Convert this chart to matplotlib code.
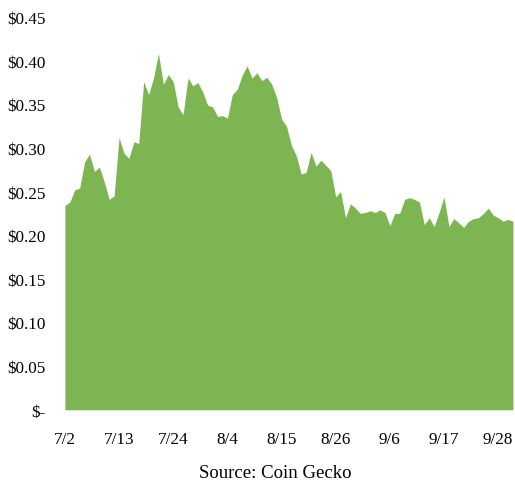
#imports
import pandas as pd
import matplotlib.pyplot as plt
import matplotlib.ticker as mticker

plt.rcParams['font.family'] = ['Liberation Serif', 'DejaVu Serif']

#daily token price in USD, 7/2 through 10/1
prices = [0.234, 0.238, 0.252, 0.254, 0.284, 0.293, 0.273, 0.278, 0.261, 0.241,
          0.245, 0.312, 0.294, 0.288, 0.307, 0.305, 0.376, 0.361, 0.380, 0.408,
          0.373, 0.384, 0.376, 0.347, 0.338, 0.380, 0.371, 0.375, 0.364, 0.349,
          0.347, 0.336, 0.337, 0.334, 0.361, 0.367, 0.383, 0.394, 0.380, 0.386,
          0.377, 0.381, 0.373, 0.358, 0.333, 0.325, 0.303, 0.291, 0.270, 0.272,
          0.295, 0.279, 0.286, 0.280, 0.274, 0.244, 0.250, 0.220, 0.236, 0.231,
          0.225, 0.226, 0.228, 0.226, 0.229, 0.226, 0.211, 0.225, 0.225, 0.241,
          0.243, 0.241, 0.238, 0.212, 0.220, 0.210, 0.226, 0.244, 0.210, 0.219,
          0.214, 0.209, 0.216, 0.219, 0.220, 0.225, 0.231, 0.223, 0.220, 0.216,
          0.218, 0.216]
start_date = '2020-07-02'
tick_step = 11
source_note = 'Source: Coin Gecko'

dates = pd.date_range(start_date, periods=len(prices), freq='D')
day = list(range(len(prices)))

fig = plt.figure(figsize=(5.15, 4.85), dpi=100)
ax = fig.add_axes([0.126, 0.153, 0.870, 0.810])
ax.fill_between(day, prices, 0, color='#7cb552', linewidth=0)

ax.set_xlim(0, len(prices) - 1)
ax.set_ylim(0, 0.45)
ax.yaxis.set_major_locator(mticker.MultipleLocator(0.05))
ax.yaxis.set_major_formatter(mticker.FuncFormatter(
    lambda v, pos: '$-' if abs(v) < 1e-9 else f'${v:.2f}'))

tick_idx = day[::tick_step]
ax.set_xticks(tick_idx)
ax.set_xticklabels([f'{dates[i].month}/{dates[i].day}' for i in tick_idx])

ax.tick_params(axis='both', length=0, labelsize=12.3, colors='black')
ax.tick_params(axis='y', pad=14)
ax.tick_params(axis='x', pad=15)
for side in ax.spines.values():
    side.set_visible(False)

fig.text(0.535, 0.023, source_note, ha='center', va='center', fontsize=13.5)
fig.savefig('out.png', dpi=100)
